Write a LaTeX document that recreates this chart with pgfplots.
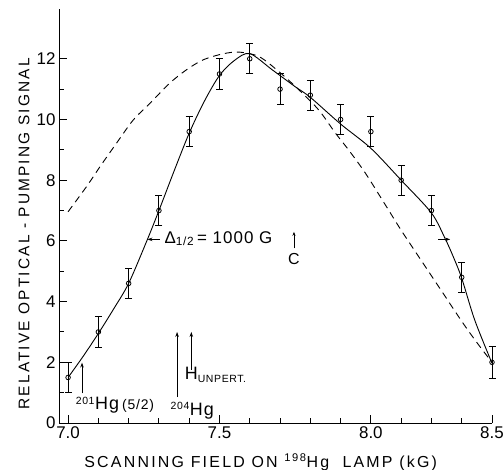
\documentclass[border=0pt]{standalone}
\usepackage{fontspec}
\setmainfont{Liberation Sans}
\newfontfamily\lbl[LetterSpace=14]{Liberation Sans}
\newfontfamily\ann[LetterSpace=6]{Liberation Sans}
\usepackage{pgfplots}
\pgfplotsset{compat=1.18}
\usetikzlibrary{arrows.meta}
\begin{document}
\begin{tikzpicture}
\begin{axis}[
    scale only axis,
    width=433bp, height=414bp,
    xmin=6.97, xmax=8.4, ymin=0, ymax=13.64,
    axis x line=bottom, axis y line=left,
    axis line style={-, line width=0.9bp},
    tick align=inside,
    major tick length=8bp, minor tick length=5bp,
    every tick/.style={black, line width=0.9bp},
    xtick={7.0,7.5,8.0,8.4},
    xticklabels={7.0,7.5,8.0,8.5},
    minor xtick={7.1,7.2,7.3,7.4,7.6,7.7,7.8,7.9,8.1,8.2,8.3},
    ytick={0,2,4,6,8,10,12},
    minor ytick={1,3,5,7,9,11},
    ticklabel style={font=\fontsize{17}{17}\selectfont},
    /pgf/number format/assume math mode=true,
    clip=false,
]
% dashed curve
\addplot[black, line width=0.9bp, dash pattern=on 7bp off 5bp, smooth, tension=0.5] coordinates {
    (7.0,6.96) (7.061,7.79) (7.105,8.44) (7.16,9.22) (7.215,9.98)
    (7.27,10.53) (7.335,11.19) (7.39,11.63) (7.445,11.96) (7.51,12.16)
    (7.565,12.22) (7.631,12.07) (7.697,11.57) (7.763,10.97) (7.828,10.31)
    (7.883,9.55) (7.927,8.99) (7.982,8.23) (8.05,7.15) (8.1,6.35)
    (8.15,5.6) (8.2,4.85) (8.25,4.1) (8.3,3.35) (8.35,2.65) (8.4,2.0)
};
% solid fitted curve
\addplot[black, line width=0.9bp, smooth, tension=0.5] coordinates {
    (7.0,1.5) (7.05,2.2) (7.1,2.95) (7.15,3.75) (7.2,4.6) (7.26,6.0)
    (7.3,7.0) (7.35,8.3) (7.4,9.55) (7.45,10.6) (7.5,11.45) (7.55,11.95)
    (7.6,12.17) (7.675,11.63) (7.75,11.08) (7.8,10.73) (7.9,9.85)
    (8.0,9.05) (8.1,8.0) (8.2,6.92) (8.245,6.08) (8.272,5.48) (8.3,4.77)
    (8.343,3.39) (8.4,1.97)
};
% measured points
\addplot[black, only marks, mark=o, mark size=2.3bp, mark options={fill=white, line width=0.8bp},
    error bars/.cd, y dir=both, y explicit,
    error bar style={line width=0.9bp},
    error mark options={rotate=90, mark size=3.5bp, line width=0.9bp}] coordinates {
    (7.0,1.5) +- (0,0.5)
    (7.1,3.0) +- (0,0.5)
    (7.2,4.6) +- (0,0.5)
    (7.3,7.0) +- (0,0.5)
    (7.4,9.6) +- (0,0.5)
    (7.5,11.5) +- (0,0.5)
    (7.6,12.0) +- (0,0.5)
    (7.7,11.0) +- (0,0.5)
    (7.8,10.8) +- (0,0.5)
    (7.9,10.0) +- (0,0.5)
    (8.0,9.6) +- (0,0.5)
    (8.1,8.0) +- (0,0.5)
    (8.2,7.0) +- (0,0.5)
    (8.3,4.8) +- (0,0.5)
    (8.4,2.0) +- (0,0.53)
};
% annotations
\draw[line width=0.9bp, -{Stealth[length=5bp,width=3.5bp]}] (axis cs:7.302,6.05) -- (axis cs:7.262,6.05);
\node[anchor=base west, inner sep=0pt, font=\ann\fontsize{17}{17}\selectfont] at (axis cs:7.318,5.92) {Δ\textsubscript{1/2}\,= 1000 G};
\draw[line width=0.9bp, -{Stealth[length=5bp,width=3.5bp]}] (axis cs:8.222,6.05) -- (axis cs:8.262,6.05);
\draw[line width=0.9bp, -{Stealth[length=4bp,width=3bp]}] (axis cs:7.746,5.75) -- (axis cs:7.746,6.3);
\node[font=\fontsize{16}{16}\selectfont] at (axis cs:7.746,5.4) {C};
\draw[line width=0.9bp, -{Stealth[length=5bp,width=3.5bp]}] (axis cs:7.046,0.98) -- (axis cs:7.046,1.99);
\node[anchor=base west, inner sep=0pt, font=\ann\fontsize{18}{18}\selectfont] at (axis cs:7.025,0.43) {{\fontsize{15}{15}\selectfont\textsuperscript{201}}Hg\,{\fontsize{14}{14}\selectfont(5/2)}};
\draw[line width=0.9bp, -{Stealth[length=5bp,width=3.5bp]}] (axis cs:7.36,0.85) -- (axis cs:7.36,3.0);
\node[anchor=base west, inner sep=0pt, font=\ann\fontsize{18}{18}\selectfont] at (axis cs:7.338,0.26) {{\fontsize{15}{15}\selectfont\textsuperscript{204}}Hg};
\draw[line width=0.9bp, -{Stealth[length=5bp,width=3.5bp]}] (axis cs:7.407,1.75) -- (axis cs:7.407,3.0);
\node[anchor=base west, inner sep=0pt, font=\ann\fontsize{18}{18}\selectfont] at (axis cs:7.385,1.42) {H\textsubscript{\fontsize{10.5}{10.5}\selectfont UNPERT.}};
% axis titles
\node[font=\lbl\fontsize{16}{16}\selectfont] at (axis cs:7.636,-1.30) {SCANNING FIELD ON \textsuperscript{198}Hg\ \ LAMP (kG)};
\node[rotate=90, font=\lbl\fontsize{15.5}{16}\selectfont] at (axis cs:6.855,6.23) {RELATIVE OPTICAL - PUMPING SIGNAL};
\coordinate (sw) at (rel axis cs:0,0);
\coordinate (ne) at (rel axis cs:1,1);
\end{axis}
\pgfresetboundingbox
\path[use as bounding box] ([xshift=-59bp,yshift=-47bp]sw) rectangle ([xshift=11bp,yshift=9bp]ne);
\end{tikzpicture}
\end{document}
